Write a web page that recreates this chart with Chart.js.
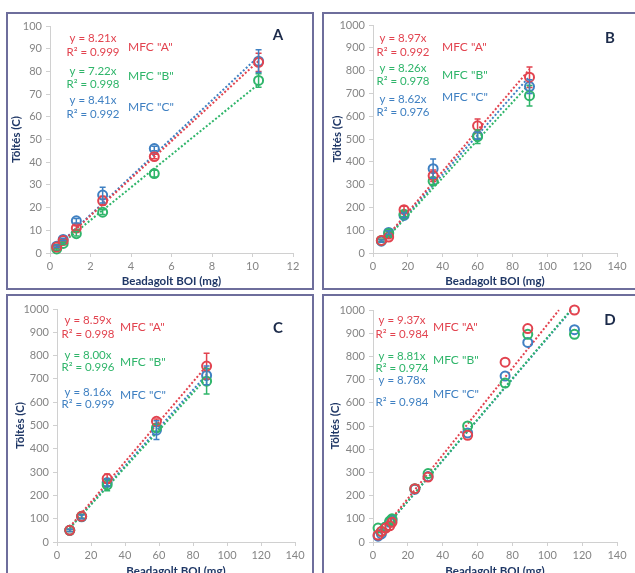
<!DOCTYPE html>
<html><head><meta charset="utf-8">
<script src="https://cdn.jsdelivr.net/npm/chart.js@4.4.1/dist/chart.umd.min.js"></script>
<style>
html,body{margin:0;padding:0;background:#fff;overflow:hidden;width:635px;height:573px;position:relative;}
.panel{position:absolute;border:2px solid #6e6e9c;box-sizing:border-box;background:#fff;}
canvas{position:absolute;}
</style></head><body>
<div class="panel" style="left:6px;top:12px;width:308px;height:278px"></div>
<div class="panel" style="left:322px;top:12px;width:316px;height:278px"></div>
<div class="panel" style="left:6px;top:294px;width:308px;height:290px"></div>
<div class="panel" style="left:322px;top:294px;width:316px;height:290px"></div>
<canvas id="cA" width="304" height="274" style="left:8px;top:14px"></canvas>
<canvas id="cB" width="311" height="274" style="left:324px;top:14px"></canvas>
<canvas id="cC" width="304" height="282" style="left:8px;top:296px"></canvas>
<canvas id="cD" width="311" height="282" style="left:324px;top:296px"></canvas>
<script>
// ---------- shared labels ----------
const seriesNames = ['MFC "A"', 'MFC "B"', 'MFC "C"'];
const yTitle = 'Töltés (C)';
const xTitle = 'Beadagolt BOI (mg)';

// ---------- Panel A ----------
const A_x = [0.33, 0.65, 1.3, 2.6, 5.15, 10.3];
const A_red = [2.6, 5.5, 11, 23, 42.5, 84];
const A_green = [1.8, 4.2, 8.5, 18, 35, 76];
const A_blue = [3, 6, 14.2, 25.5, 46, 84.5];
const A_redErr = [0.5, 0.5, 1, 2, 1, 4];
const A_greenErr = [0.5, 0.5, 1, 1, 1.5, 3];
const A_blueErr = [0.5, 0.5, 1, 3.5, 1, 5];
const A_redFit = [[0.33, 2.7], [10.3, 84.6]];
const A_greenFit = [[0.33, 2.4], [10.3, 74.4]];
const A_blueFit = [[0.33, 2.8], [10.3, 86.6]];
const A_eq = ['y = 8.21x', 'y = 7.22x', 'y = 8.41x'];
const A_r2 = ['R² = 0.999', 'R² = 0.998', 'R² = 0.992'];
const A_xTicks = [0, 2, 4, 6, 8, 10, 12];
const A_yTicks = [0, 10, 20, 30, 40, 50, 60, 70, 80, 90, 100];

// ---------- Panel B ----------
const B_x = [4.8, 9, 17.8, 34.5, 60, 89.8];
const B_red = [55, 70, 190, 339, 558, 771];
const B_green = [55, 85, 170, 315, 510, 690];
const B_blue = [52, 90, 165, 370, 515, 730];
const B_redErr = [5, 8, 15, 25, 30, 45];
const B_greenErr = [5, 8, 10, 15, 30, 45];
const B_blueErr = [5, 8, 10, 42, 15, 30];
const B_redFit = [[9, 80.7], [89.8, 805.5]];
const B_greenFit = [[9, 74.3], [89.8, 741.7]];
const B_blueFit = [[9, 77.6], [89.8, 774.1]];
const B_eq = ['y = 8.97x', 'y = 8.26x', 'y = 8.62x'];
const B_r2 = ['R² = 0.992', 'R² = 0.978', 'R² = 0.976'];
const B_xTicks = [0, 20, 40, 60, 80, 100, 120, 140];
const B_yTicks = [0, 100, 200, 300, 400, 500, 600, 700, 800, 900, 1000];

// ---------- Panel C ----------
const C_x = [7.5, 14.5, 29.5, 58.5, 88];
const C_red = [50, 110, 272, 518, 755];
const C_green = [50, 110, 245, 490, 690];
const C_blue = [50, 108, 255, 480, 715];
const C_redErr = [5, 8, 20, 10, 55];
const C_greenErr = [5, 8, 25, 15, 55];
const C_blueErr = [5, 8, 15, 40, 40];
const C_redFit = [[7.5, 64.4], [88, 755.9]];
const C_greenFit = [[7.5, 60], [88, 704]];
const C_blueFit = [[7.5, 61.2], [88, 718.1]];
const C_eq = ['y = 8.59x', 'y = 8.00x', 'y = 8.16x'];
const C_r2 = ['R² = 0.998', 'R² = 0.996', 'R² = 0.999'];
const C_xTicks = [0, 20, 40, 60, 80, 100, 120, 140];
const C_yTicks = [0, 100, 200, 300, 400, 500, 600, 700, 800, 900, 1000];

// ---------- Panel D ----------
const D_x = [2.9, 4.8, 7.3, 9.6, 10.9, 24, 31.6, 54.3, 75.8, 88.8, 115.6];
const D_red = [30, 45, 60, 70, 85, 230, 280, 460, 775, 920, 1000];
const D_green = [60, 45, 65, 90, 100, 230, 295, 500, 685, 895, 895];
const D_blue = [25, 35, 65, 85, 95, 227, 282, 470, 715, 860, 915];
const D_redFit = [[10, 93.7], [106.7, 999.8]];
const D_greenFit = [[10, 88.1], [113.5, 999.9]];
const D_blueFit = [[10, 87.8], [113.9, 1000]];
const D_eq = ['y = 9.37x', 'y = 8.81x', 'y = 8.78x'];
const D_r2 = ['R² = 0.984', 'R² = 0.974', 'R² = 0.984'];
const D_xTicks = [0, 20, 40, 60, 80, 100, 120, 140];
const D_yTicks = [0, 100, 200, 300, 400, 500, 600, 700, 800, 900, 1000];

// ---------- styling ----------
const COLORS = ['#e2434f', '#2fb56a', '#3f80c2'];
const NAVY = '#1f3766';
const TICK = '#858585';
const AXIS = '#d0d0d0';
const FONT = 'Lato, "Open Sans", sans-serif';

const errorBars = {
  id: 'errbars',
  afterDatasetsDraw(chart) {
    const ctx = chart.ctx, ys = chart.scales.y;
    chart.data.datasets.forEach((ds, i) => {
      if (!ds.errors) return;
      const meta = chart.getDatasetMeta(i);
      meta.data.forEach((pt, j) => {
        const e = ds.errors[j];
        if (!e) return;
        const v = ds.data[j].y;
        const yt = ys.getPixelForValue(v + e), yb = ys.getPixelForValue(v - e);
        ctx.save();
        ctx.strokeStyle = ds.borderColor;
        ctx.lineWidth = 1.5;
        ctx.beginPath();
        ctx.moveTo(pt.x, yt); ctx.lineTo(pt.x, yb);
        ctx.moveTo(pt.x - 3, yt); ctx.lineTo(pt.x + 3, yt);
        ctx.moveTo(pt.x - 3, yb); ctx.lineTo(pt.x + 3, yb);
        ctx.stroke();
        ctx.restore();
      });
    });
  }
};

const notes = {
  id: 'notes',
  afterDraw(chart, args, opts) {
    const ctx = chart.ctx, ca = chart.chartArea;
    (opts.items || []).forEach(it => {
      ctx.save();
      ctx.font = it.font;
      ctx.fillStyle = it.color;
      ctx.textAlign = it.align || 'center';
      ctx.textBaseline = 'middle';
      ctx.fillText(it.text, ca.left + it.dx, ca.top + it.dy);
      ctx.restore();
    });
  }
};

function pts(xs, ys) { return xs.map((x, i) => ({x: x, y: ys[i]})); }
function fit(arr) { return arr.map(p => ({x: p[0], y: p[1]})); }

function makePanel(id, P) {
  const canvasRect = P.canvas, plot = P.plot;
  const datasets = [];
  P.series.forEach((s, k) => {
    datasets.push({
      label: seriesNames[k],
      data: pts(P.x, s),
      errors: P.errs ? P.errs[k] : null,
      borderColor: COLORS[k],
      backgroundColor: 'rgba(255,255,255,0)',
      pointRadius: 4.5,
      pointBorderWidth: 2,
      showLine: false,
      clip: false
    });
  });
  P.fits.forEach((f, k) => {
    datasets.push({
      label: seriesNames[k] + ' fit',
      data: fit(f),
      borderColor: COLORS[k],
      borderWidth: 2,
      borderDash: [2, 2],
      pointRadius: 0,
      showLine: true,
      fill: false,
      clip: false
    });
  });
  const items = [];
  const eqFont = '11.5px ' + FONT;
  for (let k = 0; k < 3; k++) {
    items.push({text: P.eq[k], color: COLORS[k], dx: P.eqDx, dy: P.eqDy[k], font: eqFont});
    items.push({text: P.r2[k], color: COLORS[k], dx: P.eqDx, dy: P.eqDy[k] + P.r2Gap[k], font: eqFont});
    items.push({text: seriesNames[k], color: COLORS[k], dx: P.nameDx, dy: P.nameDy[k], font: '12px ' + FONT, align: 'left'});
  }
  items.push({text: P.letter, color: '#1c2b4a', dx: P.letterDx, dy: P.letterDy, font: 'bold 15px ' + FONT});

  new Chart(document.getElementById(id), {
    type: 'scatter',
    data: {datasets: datasets},
    plugins: [errorBars, notes],
    options: {
      responsive: false,
      animation: false,
      layout: {padding: {left: 0, top: plot.t - canvasRect.t, right: canvasRect.l + canvasRect.w - plot.r, bottom: 0}},
      plugins: {legend: {display: false}, tooltip: {enabled: false}, notes: {items: items}},
      scales: {
        x: {
          type: 'linear', min: P.xTicks[0], max: P.xTicks[P.xTicks.length - 1],
          afterBuildTicks: s => { s.ticks = P.xTicks.map(v => ({value: v})); },
          afterFit: s => { s.height = canvasRect.t + canvasRect.h - plot.b; },
          grid: {drawOnChartArea: false, drawTicks: true, tickLength: 4, color: AXIS},
          border: {display: true, color: AXIS, width: 1},
          ticks: {color: TICK, font: {family: FONT, size: 11}, padding: 3, maxRotation: 0, autoSkip: false,
                  callback: v => String(v)},
          title: {display: true, text: xTitle, color: NAVY, font: {family: FONT, size: 11.5, weight: 'bold'}, padding: {top: 0, bottom: 0}}
        },
        y: {
          type: 'linear', min: P.yTicks[0], max: P.yTicks[P.yTicks.length - 1],
          afterBuildTicks: s => { s.ticks = P.yTicks.map(v => ({value: v})); },
          afterFit: s => { s.width = plot.l - canvasRect.l; },
          grid: {drawOnChartArea: false, drawTicks: true, tickLength: 4, color: AXIS},
          border: {display: true, color: AXIS, width: 1},
          ticks: {color: TICK, font: {family: FONT, size: 11}, padding: 4, autoSkip: false,
                  callback: v => String(v)},
          title: {display: true, text: yTitle, color: NAVY, font: {family: FONT, size: 11.5, weight: 'bold'}, padding: {top: P.yTitlePad, bottom: 0}}
        }
      }
    }
  });
}

makePanel('cA', {
  canvas: {l: 8, t: 14, w: 304, h: 274}, plot: {l: 50, t: 26, r: 293, b: 253},
  x: A_x, series: [A_red, A_green, A_blue], errs: [A_redErr, A_greenErr, A_blueErr],
  fits: [A_redFit, A_greenFit, A_blueFit], eq: A_eq, r2: A_r2,
  xTicks: A_xTicks, yTicks: A_yTicks, yTitlePad: 1,
  eqDx: 43, eqDy: [12, 45, 74], r2Gap: [14, 13, 14], nameDx: 78, nameDy: [21, 50, 81],
  letter: 'A', letterDx: 228, letterDy: 9
});
makePanel('cB', {
  canvas: {l: 324, t: 14, w: 311, h: 274}, plot: {l: 373, t: 25, r: 617, b: 253},
  x: B_x, series: [B_red, B_green, B_blue], errs: [B_redErr, B_greenErr, B_blueErr],
  fits: [B_redFit, B_greenFit, B_blueFit], eq: B_eq, r2: B_r2,
  xTicks: B_xTicks, yTicks: B_yTicks, yTitlePad: 6,
  eqDx: 30, eqDy: [13, 43, 74], r2Gap: [14, 13, 13], nameDx: 69, nameDy: [22, 50, 72],
  letter: 'B', letterDx: 237, letterDy: 13
});
makePanel('cC', {
  canvas: {l: 8, t: 296, w: 304, h: 282}, plot: {l: 57, t: 309, r: 295, b: 542},
  x: C_x, series: [C_red, C_green, C_blue], errs: [C_redErr, C_greenErr, C_blueErr],
  fits: [C_redFit, C_greenFit, C_blueFit], eq: C_eq, r2: C_r2,
  xTicks: C_xTicks, yTicks: C_yTicks, yTitlePad: 5,
  eqDx: 31, eqDy: [11, 46, 83], r2Gap: [14, 12, 12], nameDx: 63, nameDy: [18, 53, 86],
  letter: 'C', letterDx: 221, letterDy: 19
});
makePanel('cD', {
  canvas: {l: 324, t: 296, w: 311, h: 282}, plot: {l: 373, t: 310, r: 617, b: 542},
  x: D_x, series: [D_red, D_green, D_blue], errs: null,
  fits: [D_redFit, D_greenFit, D_blueFit], eq: D_eq, r2: D_r2,
  xTicks: D_xTicks, yTicks: D_yTicks, yTitlePad: 4,
  eqDx: 29, eqDy: [10, 46, 70], r2Gap: [14, 12, 22], nameDx: 60, nameDy: [17, 50, 84],
  letter: 'D', letterDx: 237, letterDy: 10
});
</script>
</body></html>
